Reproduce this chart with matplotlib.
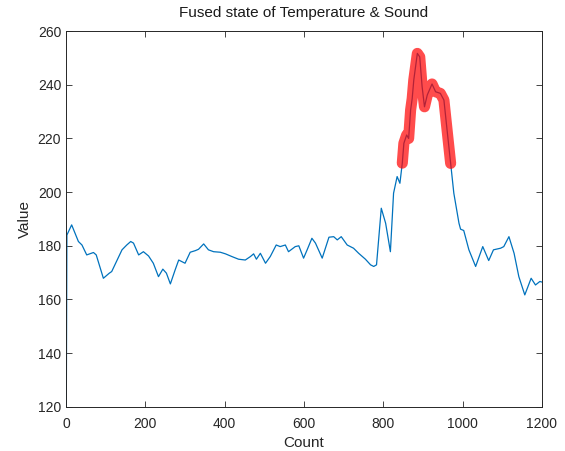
import matplotlib
matplotlib.use('Agg')
import matplotlib.pyplot as plt

# fused sensor reading, sampled along the count axis
count = [0, 2, 14, 31, 40, 52, 69, 76, 94, 109, 115, 141, 153, 163, 170, 183,
         195, 208, 220, 233, 244, 253, 263, 275, 284, 300, 313, 326, 334, 347,
         359, 372, 389, 402, 418, 435, 452, 465, 473, 480, 490, 503, 515, 530,
         540, 553, 561, 578, 587, 599, 608, 620, 629, 646, 663, 675, 684, 694,
         709, 725, 738, 755, 768, 776, 783, 795, 806, 818, 826, 835, 842, 848,
         852, 859, 864, 869, 873, 877, 886, 892, 898, 904, 911, 923, 932, 944,
         953, 961, 970, 978, 991, 995, 1003, 1016, 1033, 1051, 1066, 1078,
         1096, 1104, 1117, 1130, 1142, 1157, 1173, 1184, 1195, 1200]
value = [100, 184.0, 187.8, 181.6, 180.3, 176.6, 177.5, 176.6, 167.9, 169.8,
         170.4, 178.5, 180.3, 181.6, 181.0, 176.6, 177.8, 176.2, 173.5, 168.5,
         171.3, 169.8, 165.8, 171.0, 174.7, 173.5, 177.6, 178.2, 178.7, 180.7,
         178.5, 177.8, 177.6, 177.0, 176.0, 175.0, 174.7, 176.0, 177.0, 175.0,
         177.2, 173.5, 176.0, 180.3, 179.7, 180.3, 177.8, 179.7, 180.0, 175.4,
         178.5, 182.8, 181.0, 175.4, 183.2, 183.4, 182.2, 183.4, 180.3, 179.1,
         177.2, 175.0, 172.9, 172.3, 172.9, 194.0, 188.4, 177.8, 199.6, 205.8,
         203.3, 210.8, 218.2, 221.3, 220.0, 230.6, 234.9, 241.8, 251.7, 250.4,
         239.3, 231.8, 236.2, 240.3, 237.4, 236.8, 234.3, 223.1, 210.7, 199.6,
         188.4, 186.2, 185.7, 178.5, 172.3, 179.7, 174.5, 178.5, 179.1, 179.7,
         183.4, 177.2, 168.5, 161.7, 167.9, 165.4, 166.7, 166.5]

# window where both sensors agree on an event
event_start = 848
event_end = 970

ev_x = [c for c in count if event_start <= c <= event_end]
ev_y = [v for c, v in zip(count, value) if event_start <= c <= event_end]

plt.rcParams['font.family'] = ['Liberation Sans', 'DejaVu Sans']
fig = plt.figure(figsize=(5.65, 4.51), dpi=100)
ax = fig.add_axes([0.117, 0.098, 0.842, 0.833])

ax.plot(count, value, color='#0072BD', linewidth=0.9)
ax.plot(ev_x, ev_y, color='red', linewidth=8, alpha=0.7,
        solid_capstyle='round', solid_joinstyle='round')

ax.set_xlim(0, 1200)
ax.set_ylim(120, 260)
ax.set_xticks(range(0, 1201, 200))
ax.set_yticks(range(120, 261, 20))
ax.tick_params(direction='in', top=True, right=True, length=4,
               labelsize=10, colors='#262626', width=0.6)
ax.tick_params(axis='x', pad=7)
for s in ax.spines.values():
    s.set_color('#262626')
    s.set_linewidth(0.7)

ax.set_title('Fused state of Temperature & Sound', fontsize=11, color='#1a1a1a', pad=10)
ax.set_xlabel('Count', fontsize=11, color='#262626', labelpad=4)
ax.set_ylabel('Value', fontsize=11, color='#262626', labelpad=4)

fig.savefig('out.png', dpi=100)
